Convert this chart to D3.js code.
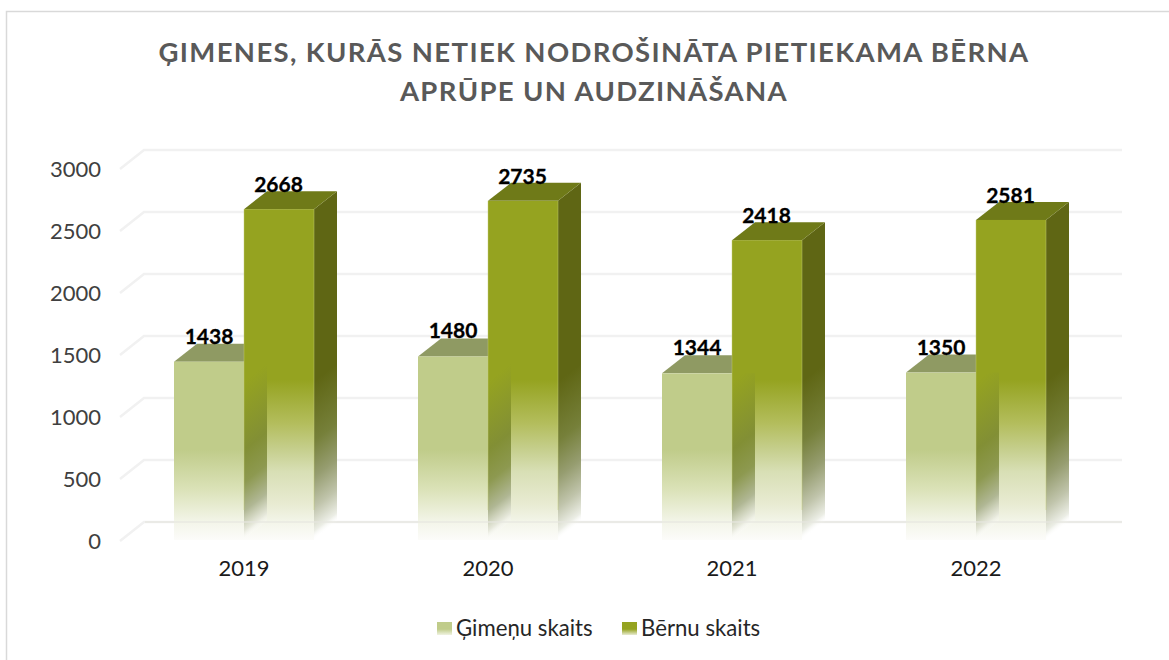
<!DOCTYPE html>
<html><head><meta charset="utf-8">
<script src="https://cdn.jsdelivr.net/npm/d3@7/dist/d3.min.js"></script>
<style>html,body{margin:0;padding:0;background:#fff}svg{display:block}text{font-family:Lato,"Open Sans",sans-serif}</style>
</head><body><svg id="c" width="1169" height="660"></svg>
<script>
const years = ["2019","2020","2021","2022"];
const familyCounts = [1438,1480,1344,1350];
const childCounts = [2668,2735,2418,2581];
const seriesNames = ["Ģimeņu skaits","Bērnu skaits"];
const titleLines = ["ĢIMENES, KURĀS NETIEK NODROŠINĀTA PIETIEKAMA BĒRNA","APRŪPE UN AUDZINĀŠANA"];
const yTicks = [0,500,1000,1500,2000,2500,3000];

const svg = d3.select("#c");
const dx = 23, dy = -18;
const x = d3.scaleBand().domain(years).range([122,1098]).paddingInner(0).paddingOuter(0);
const y = d3.scaleLinear().domain([0,3000]).range([540,168]);
const barW = 70;
const defs = svg.append("defs");
function addStops(g, stops){
  stops.forEach(s=>g.append("stop").attr("offset",s[0]).attr("stop-color",s[1]).attr("stop-opacity",s[2]));
}
function grad(id, stops, y1, y2){
  addStops(defs.append("linearGradient").attr("id",id).attr("gradientUnits","userSpaceOnUse")
    .attr("x1",0).attr("x2",0).attr("y1",y1).attr("y2",y2), stops);
}
// diagonal gradient: iso-lines run parallel to the bar's slanted bottom edge
function diag(id, stops, px, y1, y2){
  const len = Math.hypot(dx,dy), nx = -dy/len, ny = dx/len, d = (y2-y1)*ny;
  addStops(defs.append("linearGradient").attr("id",id).attr("gradientUnits","userSpaceOnUse")
    .attr("x1",px).attr("y1",y1).attr("x2",px+nx*d).attr("y2",y1+ny*d), stops);
}
const top0 = 360, bot = 540;
const lightC="#c0cc8a", darkC="#95a320", sideC="#5f6614";
grad("gLight",[[0,lightC,1],[0.5,lightC,1],[0.72,"#dbe2b8",1],[0.9,"#f3f5e9",1],[1,"#fcfcfa",1]],top0,bot);
grad("gDark",[[0,darkC,1],[0.11,darkC,1],[0.35,"#b3bd5c",1],[0.5,"#c6cf8e",1],[0.62,"#d8dfb5",1],[0.8,"#e8ebd2",1],[0.9,"#f3f5e9",1],[1,"#fcfcfa",1]],top0,bot);
const sideStops = [[0,sideC,1],[0.12,sideC,1],[0.45,"#76803a",1],[0.65,"#969d70",1],[0.82,"#c0c4ab",1],[0.95,"#eceee6",1],[1,"#ffffff",0]];
const innerStops = [[0,darkC,1],[0.12,darkC,1],[0.5,"#828f35",1],[0.68,"#8d9950",1],[0.84,"#b0b794",1],[0.95,"#e5e7da",0.9],[1,"#ffffff",0]];
const legG = defs.append("linearGradient").attr("id","lgL").attr("x1",0).attr("x2",0).attr("y1",0).attr("y2",1);
addStops(legG,[[0,lightC,1],[0.55,lightC,1],[1,"#f0f3e2",1]]);
const legH = defs.append("linearGradient").attr("id","lgD").attr("x1",0).attr("x2",0).attr("y1",0).attr("y2",1);
addStops(legH,[[0,darkC,1],[0.55,darkC,1],[1,"#e8ebd2",1]]);

svg.append("rect").attr("x",6.5).attr("y",11.5).attr("width",1300).attr("height",800)
  .attr("fill","#fff").attr("stroke","#d9d9d9").attr("stroke-width",1.5);

const tt = svg.append("g");
titleLines.forEach((t,i)=>tt.append("text").attr("x",594).attr("y",62+i*38.5).attr("text-anchor","middle")
  .attr("font-size",27.5).attr("font-weight",700).attr("letter-spacing",1.36).attr("fill","#595959").text(t));

const grid = svg.append("g");
yTicks.forEach(t=>{
  const p = y(t);
  grid.append("path").attr("d",d3.line()([[120,p+1],[122+dx-1,p+dy],[1122,p+dy]]))
    .attr("fill","none").attr("stroke","#f1f1f1").attr("stroke-width",2.5);
});

const yAxis = d3.axisLeft(y).tickValues(yTicks).tickSize(0).tickFormat(d3.format("d"));
const ya = svg.append("g").attr("transform","translate(106,1)").call(yAxis);
ya.select(".domain").remove();
ya.selectAll("text").attr("font-size",22).attr("fill","#404040").attr("x",-5).attr("dy","0.32em").style("font-family","Lato");

const xAxis = d3.axisBottom(x).tickSize(0);
const xa = svg.append("g").attr("transform","translate(0,558)").call(xAxis);
xa.select(".domain").remove();
xa.selectAll("text").attr("font-size",22).attr("fill","#1a1a1a").attr("dy","0.71em").attr("y",2).style("font-family","Lato");

function pts(a){return a.map(p=>p.join(",")).join(" ");}
years.forEach((yr,i)=>{
  const c = x(yr)+x.bandwidth()/2;
  const g = svg.append("g");
  const vF = familyCounts[i], vC = childCounts[i];
  const yF = y(vF), yC = y(vC), y0 = y(0);
  const lx = c-barW, rx = c+barW;
  diag("gSide"+i, sideStops, rx, top0, bot);
  diag("gInner"+i, innerStops, c, top0, bot);
  g.append("polygon").attr("points",pts([[lx,yF],[lx+dx,yF+dy],[c+dx,yF+dy],[c,yF]])).attr("fill","#8f9a63");
  g.append("rect").attr("x",lx).attr("y",yF).attr("width",barW).attr("height",y0-yF).attr("fill","url(#gLight)");
  g.append("polygon").attr("points",pts([[rx,yC],[rx+dx,yC+dy],[rx+dx,y0+dy],[rx,y0]])).attr("fill","url(#gSide"+i+")");
  g.append("polygon").attr("points",pts([[c,yC],[c+dx,yC+dy],[rx+dx,yC+dy],[rx,yC]])).attr("fill","#6f7a18");
  g.append("rect").attr("x",c).attr("y",yC).attr("width",barW).attr("height",y0-yC).attr("fill","url(#gDark)");
  // light bar's side face, seen through the dark bar
  g.append("polygon").attr("points",pts([[c,yF],[c+dx,yF],[c+dx,y0+dy],[c,y0]])).attr("fill","url(#gInner"+i+")");
  // pale front edges
  [c,rx].forEach(ex=>g.append("line").attr("x1",ex).attr("x2",ex).attr("y1",yC).attr("y2",y0-30)
    .attr("stroke","#c3cc7a").attr("stroke-opacity",0.45).attr("stroke-width",1));
  const lab = (v,px,py)=>svg.append("text").attr("x",px).attr("y",py).attr("text-anchor","middle")
    .attr("font-size",21).attr("font-weight",700).attr("fill","#000").attr("stroke","#000").attr("stroke-width",0.3).text(v);
  lab(vF,lx+35,yF-18);
  lab(vC,c+34.5,yC-17);
});

// floor line stays faintly visible through the faded bar bases
svg.append("line").attr("x1",122+dx).attr("x2",1122).attr("y1",y(0)+dy).attr("y2",y(0)+dy)
  .attr("stroke","#e6e6e0").attr("stroke-opacity",0.6).attr("stroke-width",2);

const leg = svg.append("g");
const legendXs = [[437,"url(#lgL)",456],[622,"url(#lgD)",641]];
seriesNames.forEach((n,i)=>{
  leg.append("rect").attr("x",legendXs[i][0]).attr("y",622).attr("width",15).attr("height",13).attr("fill",legendXs[i][1]);
  leg.append("text").attr("x",legendXs[i][2]).attr("y",636).attr("font-size",22.2).attr("fill","#262626").text(n);
});
</script></body></html>
